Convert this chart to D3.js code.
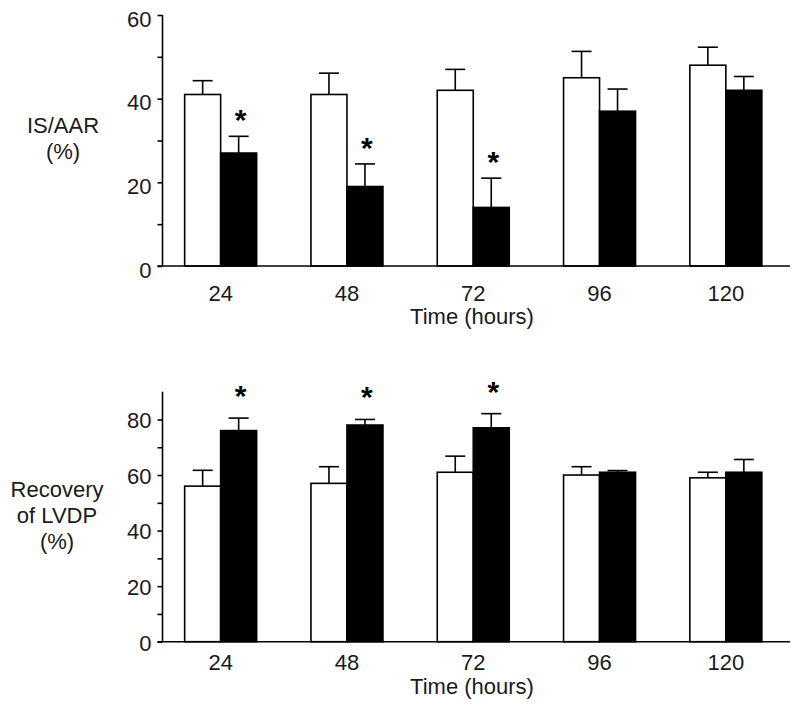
<!DOCTYPE html>
<html>
<head>
<meta charset="utf-8">
<script src="https://cdn.jsdelivr.net/npm/d3@7"></script>
<style>
  html, body { margin: 0; padding: 0; background: #fff; }
  svg { display: block; font-family: "Liberation Sans", Arial, sans-serif; }
</style>
</head>
<body>
<svg id="chart" width="800" height="711"></svg>
<script>
// ---- data ----
const categories = ["24", "48", "72", "96", "120"];
const seriesNames = ["control", "treated"];

// IS/AAR (%)
const isControl = [41, 41, 42, 45, 48];
const isControlErr = [3.3, 5.1, 5.0, 6.3, 4.3];
const isTreated = [27, 19, 14, 37, 42];
const isTreatedErr = [4.0, 5.4, 7.0, 5.3, 3.3];
const isSignificant = [true, true, true, false, false];
const isTicks = [0, 20, 40, 60];
const isMinorTicks = [10, 30, 50];

// Recovery of LVDP (%)
const lvdpControl = [56, 57, 61, 60, 59];
const lvdpControlErr = [5.7, 6.0, 5.8, 3.0, 2.0];
const lvdpTreated = [76, 78, 77, 61, 61];
const lvdpTreatedErr = [4.5, 2.0, 5.1, 0.6, 4.6];
const lvdpSignificant = [true, true, true, false, false];
const lvdpTicks = [0, 20, 40, 60, 80];
const lvdpMinorTicks = [10, 30, 50, 70];

const xLabel = "Time (hours)";

const svg = d3.select("#chart");
const FS = 22;
const TXT = "#1a1a1a";

function drawPanel(opts) {
  const g = svg.append("g");
  const y = d3.scaleLinear().domain(opts.domain).range([opts.y0, opts.y1]);
  const x = d3.scaleBand().domain(categories).range([157.5, 789])
    .paddingInner(0.43).paddingOuter(0.215);
  const xs = d3.scaleBand().domain(seriesNames).range([0, x.bandwidth()]);

  const rows = categories.map((c, i) => ({
    cat: c,
    bars: [
      { s: "control", v: opts.control[i], e: opts.controlErr[i] },
      { s: "treated", v: opts.treated[i], e: opts.treatedErr[i] }
    ],
    sig: opts.sig[i]
  }));

  // error bars
  const capHalf = 10;
  rows.forEach(r => {
    r.bars.forEach(b => {
      const cx = x(r.cat) + xs(b.s) + xs.bandwidth() / 2;
      g.append("line")
        .attr("x1", cx).attr("x2", cx)
        .attr("y1", y(b.v)).attr("y2", y(b.v + b.e))
        .attr("stroke", "#000").attr("stroke-width", 1.6);
      g.append("line")
        .attr("x1", cx - capHalf).attr("x2", cx + capHalf)
        .attr("y1", y(b.v + b.e)).attr("y2", y(b.v + b.e))
        .attr("stroke", "#000").attr("stroke-width", 1.6);
    });
  });

  // bars
  rows.forEach(r => {
    g.selectAll(null).data(r.bars).enter().append("rect")
      .attr("x", b => x(r.cat) + xs(b.s))
      .attr("y", b => y(b.v))
      .attr("width", xs.bandwidth())
      .attr("height", b => y(0) - y(b.v))
      .attr("fill", b => b.s === "control" ? "#fff" : "#000")
      .attr("stroke", "#000").attr("stroke-width", 1.6);
  });

  // asterisks
  rows.forEach(r => {
    if (!r.sig) return;
    const b = r.bars[1];
    const cx = x(r.cat) + xs("treated") + xs.bandwidth() / 2;
    const cy = y(b.v + b.e) - opts.starOffset;
    g.append("text")
      .attr("x", cx + 2).attr("y", cy + 16)
      .attr("text-anchor", "middle")
      .attr("font-size", 30).attr("font-weight", "bold")
      .text("*");
  });

  // y axis
  const axisX = 162.5;
  const yAxis = d3.axisLeft(y).tickValues(opts.ticks).tickSize(5).tickPadding(6)
    .tickFormat(d3.format("d"));
  const ya = g.append("g").attr("transform", `translate(${axisX},0)`).call(yAxis);
  ya.select(".domain").remove();
  ya.selectAll(".tick line").attr("stroke", "#000").attr("stroke-width", 1.6);
  ya.selectAll(".tick text").attr("font-size", FS).attr("fill", TXT)
    .attr("dy", opts.yTickDy)
    .attr("font-family", "Liberation Sans, Arial, sans-serif");
  const minor = d3.axisLeft(y).tickValues(opts.minor).tickSize(5).tickFormat("");
  const ym = g.append("g").attr("transform", `translate(${axisX},0)`).call(minor);
  ym.select(".domain").remove();
  ym.selectAll(".tick line").attr("stroke", "#000").attr("stroke-width", 1.6);
  g.append("line")
    .attr("x1", axisX).attr("x2", axisX)
    .attr("y1", y(0)).attr("y2", opts.y1)
    .attr("stroke", "#000").attr("stroke-width", 1.6);

  // x axis
  const xAxis = d3.axisBottom(x).tickSize(0).tickPadding(opts.xTickPad);
  const xa = g.append("g").attr("transform", `translate(0,${y(0)})`).call(xAxis);
  xa.select(".domain").remove();
  xa.selectAll(".tick text").attr("font-size", FS).attr("fill", TXT)
    .attr("font-family", "Liberation Sans, Arial, sans-serif");
  g.append("line")
    .attr("x1", axisX - 5).attr("x2", 790)
    .attr("y1", y(0)).attr("y2", y(0))
    .attr("stroke", "#000").attr("stroke-width", 1.6);

  g.append("text")
    .attr("x", 472).attr("y", y(0) + opts.xLabelOffset)
    .attr("text-anchor", "middle").attr("font-size", FS).attr("fill", TXT)
    .text(xLabel);

  // y label lines
  opts.yLabel.forEach((t, i) => {
    g.append("text")
      .attr("x", opts.yLabelX).attr("y", opts.yLabelY + i * opts.yLabelGap)
      .attr("text-anchor", "middle").attr("font-size", FS).attr("fill", TXT)
      .text(t);
  });
}

drawPanel({
  domain: [0, 60], y0: 266, y1: 15,
  control: isControl, controlErr: isControlErr,
  treated: isTreated, treatedErr: isTreatedErr,
  sig: isSignificant, ticks: isTicks, minor: isMinorTicks,
  starOffset: 22, xLabelOffset: 58, xTickPad: 19, yTickDy: "0.5em",
  yLabel: ["IS/AAR", "(%)"], yLabelX: 63, yLabelY: 133, yLabelGap: 26
});

drawPanel({
  domain: [0, 90], y0: 641.7, y1: 391.7,
  control: lvdpControl, controlErr: lvdpControlErr,
  treated: lvdpTreated, treatedErr: lvdpTreatedErr,
  sig: lvdpSignificant, ticks: lvdpTicks, minor: lvdpMinorTicks,
  starOffset: 28, xLabelOffset: 52, xTickPad: 13, yTickDy: "0.38em",
  yLabel: ["Recovery", "of LVDP", "(%)"], yLabelX: 57, yLabelY: 497, yLabelGap: 26
});
</script>
</body>
</html>
